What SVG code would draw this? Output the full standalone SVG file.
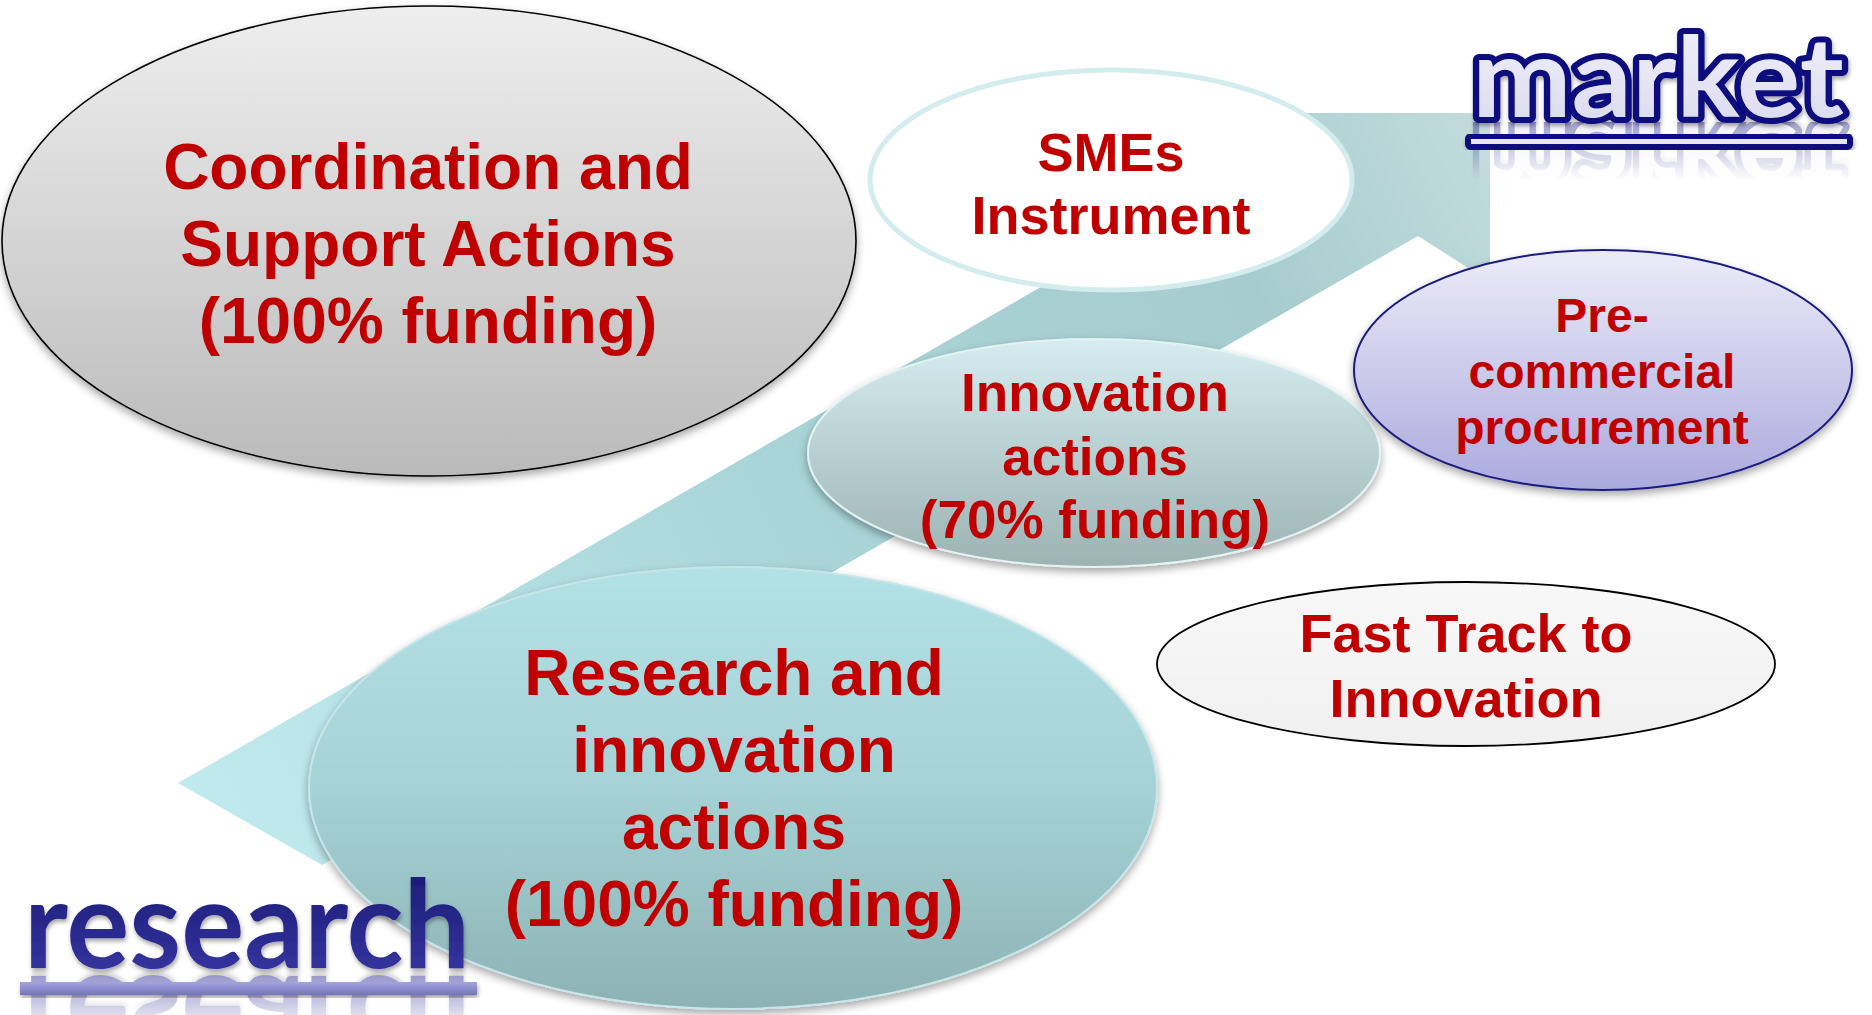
<svg xmlns="http://www.w3.org/2000/svg" xmlns:xlink="http://www.w3.org/1999/xlink" width="1872" height="1015" viewBox="0 0 1872 1015">
<style>
.lbl{font-family:"Liberation Sans",Arial,sans-serif;font-weight:bold;fill:#c00000;text-anchor:middle}
.big{font-size:64px}
.mid{font-size:54px}
.sm{font-size:48px}
.word{font-family:Lato,"Open Sans",sans-serif;font-weight:bold}
</style>
<defs>
<linearGradient id="gBand" gradientUnits="userSpaceOnUse" x1="178" y1="783" x2="1490" y2="113">
<stop offset="0" stop-color="#c0eaee"/>
<stop offset="0.45" stop-color="#a9d5d8"/>
<stop offset="0.8" stop-color="#a6ccce"/>
<stop offset="1" stop-color="#c3dcdc"/>
</linearGradient>
<linearGradient id="gGray" x1="0" y1="0" x2="0" y2="1">
<stop offset="0" stop-color="#eeeeee"/>
<stop offset="1" stop-color="#bababa"/>
</linearGradient>
<linearGradient id="gInno" x1="0" y1="0" x2="0" y2="1">
<stop offset="0" stop-color="#d5edf0"/>
<stop offset="1" stop-color="#9cb2b3"/>
</linearGradient>
<linearGradient id="gRes" x1="0" y1="0" x2="0" y2="1">
<stop offset="0" stop-color="#b2e1e6"/>
<stop offset="0.5" stop-color="#a5d2d6"/>
<stop offset="1" stop-color="#8db2b4"/>
</linearGradient>
<linearGradient id="gPcp" x1="0" y1="0" x2="0" y2="1">
<stop offset="0" stop-color="#ececf8"/>
<stop offset="1" stop-color="#abaade"/>
</linearGradient>
<linearGradient id="gFast" x1="0" y1="0" x2="0" y2="1">
<stop offset="0" stop-color="#f8f8f8"/>
<stop offset="1" stop-color="#f0f0f0"/>
</linearGradient>
<linearGradient id="gMkt" x1="0" y1="0" x2="0" y2="1">
<stop offset="0" stop-color="#f4f4fb"/>
<stop offset="1" stop-color="#d8d8ee"/>
</linearGradient>
<linearGradient id="gResWord" x1="0" y1="0" x2="0" y2="1">
<stop offset="0" stop-color="#17176e"/>
<stop offset="1" stop-color="#3838a6"/>
</linearGradient>
<linearGradient id="gResBar" x1="0" y1="0" x2="0" y2="1">
<stop offset="0" stop-color="#a4a4de"/>
<stop offset="1" stop-color="#7474bb"/>
</linearGradient>
<linearGradient id="fadeM" gradientUnits="userSpaceOnUse" x1="0" y1="122" x2="0" y2="180">
<stop offset="0" stop-color="#fff" stop-opacity="0.4"/>
<stop offset="1" stop-color="#fff" stop-opacity="0"/>
</linearGradient>
<linearGradient id="fadeR" gradientUnits="userSpaceOnUse" x1="0" y1="970" x2="0" y2="1015">
<stop offset="0" stop-color="#fff" stop-opacity="0.55"/>
<stop offset="1" stop-color="#fff" stop-opacity="0.15"/>
</linearGradient>
<mask id="mM" maskUnits="userSpaceOnUse" x="1400" y="118" width="472" height="80"><rect x="1400" y="122" width="472" height="70" fill="url(#fadeM)"/></mask>
<mask id="mR" maskUnits="userSpaceOnUse" x="0" y="966" width="520" height="49"><rect x="0" y="970" width="520" height="45" fill="url(#fadeR)"/></mask>
<filter id="sh" x="-10%" y="-10%" width="120%" height="125%">
<feDropShadow dx="0" dy="4" stdDeviation="4" flood-color="#000" flood-opacity="0.35"/>
</filter>
<filter id="shs" x="-10%" y="-10%" width="120%" height="130%">
<feDropShadow dx="1" dy="3" stdDeviation="2" flood-color="#000" flood-opacity="0.35"/>
</filter>
</defs>
<rect width="1872" height="1015" fill="#ffffff"/>

<g id="connectors">
<polygon points="178,783 1180,207 1200,113 1490,113 1490,282 1418,236 322,865" fill="url(#gBand)"/>
</g>

<g id="node-csa">
<ellipse cx="429" cy="241" rx="427" ry="235" fill="url(#gGray)" stroke="#000" stroke-width="1.6" filter="url(#sh)"/>
<text class="lbl big" x="428" y="189">Coordination and</text>
<text class="lbl big" x="428" y="266">Support Actions</text>
<text class="lbl big" x="428" y="343">(100% funding)</text>
</g>

<g id="node-sme">
<ellipse cx="1111" cy="180" rx="241" ry="110" fill="#ffffff" stroke="#d3ecee" stroke-width="5"/>
<text class="lbl mid" x="1111" y="171">SMEs</text>
<text class="lbl mid" x="1111" y="234">Instrument</text>
</g>

<g id="node-ia">
<ellipse cx="1094" cy="453" rx="286" ry="114" fill="url(#gInno)" stroke="#e4f2f3" stroke-width="2" filter="url(#sh)"/>
<text class="lbl" font-size="53" x="1095" y="411">Innovation</text>
<text class="lbl" font-size="53" x="1095" y="475">actions</text>
<text class="lbl" font-size="53" x="1095" y="538">(70% funding)</text>
</g>

<g id="node-ria">
<ellipse cx="733" cy="788" rx="424" ry="221" fill="url(#gRes)" stroke="#c6e6ea" stroke-width="2" filter="url(#sh)"/>
<text class="lbl big" x="734" y="695">Research and</text>
<text class="lbl big" x="734" y="772">innovation</text>
<text class="lbl big" x="734" y="849">actions</text>
<text class="lbl big" x="734" y="926">(100% funding)</text>
</g>

<g id="node-pcp">
<ellipse cx="1603" cy="370" rx="249" ry="120" fill="url(#gPcp)" stroke="#1c1c80" stroke-width="2" filter="url(#sh)"/>
<text class="lbl sm" x="1602" y="332">Pre-</text>
<text class="lbl sm" x="1602" y="388">commercial</text>
<text class="lbl sm" x="1602" y="444">procurement</text>
</g>

<g id="node-ftti">
<ellipse cx="1466" cy="664" rx="309" ry="82" fill="url(#gFast)" stroke="#000" stroke-width="1.8"/>
<text class="lbl mid" x="1466" y="652">Fast Track to</text>
<text class="lbl mid" x="1466" y="717">Innovation</text>
</g>

<g id="node-market">
<g mask="url(#mM)"><use xlink:href="#mktText" transform="matrix(1 0 0 -1 0 240)"/></g>
<text id="mktText" class="word" x="1472" y="117" font-size="112" textLength="372" lengthAdjust="spacingAndGlyphs" fill="url(#gMkt)" stroke="#07077e" stroke-width="12" stroke-linejoin="round" paint-order="stroke" filter="url(#shs)">market</text>
<rect x="1468" y="136" width="382" height="11" rx="3" fill="#e6e6f4" stroke="#07077e" stroke-width="6" filter="url(#shs)"/>
</g>

<g id="node-research">
<g mask="url(#mR)"><use xlink:href="#resText" transform="matrix(1 0 0 -1 0 1944)"/></g>
<text id="resText" class="word" x="24" y="968" font-size="122" textLength="446" lengthAdjust="spacingAndGlyphs" fill="url(#gResWord)" filter="url(#shs)">research</text>
<rect x="20" y="982" width="457" height="13" fill="url(#gResBar)" filter="url(#shs)"/>
</g>
</svg>
